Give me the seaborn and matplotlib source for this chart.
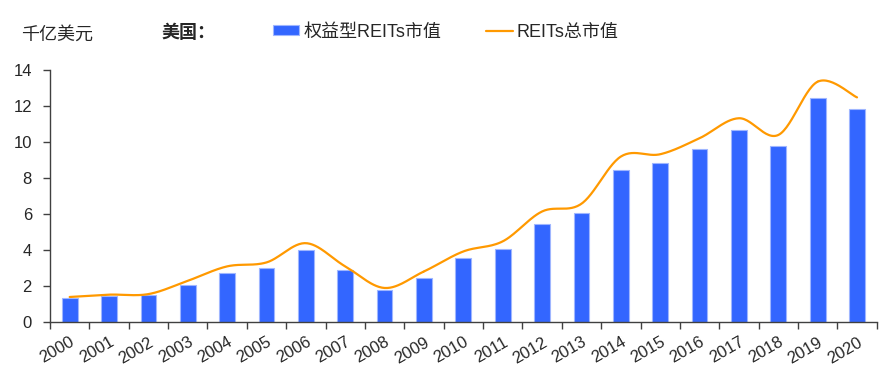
import numpy as np
import pandas as pd
import matplotlib
matplotlib.use("Agg")
import matplotlib.pyplot as plt
import seaborn as sns
from matplotlib.patches import Patch
from matplotlib.lines import Line2D

years = [str(y) for y in range(2000, 2021)]
equity_reits = [1.33, 1.46, 1.50, 2.03, 2.74, 3.01, 4.00, 2.89, 1.76, 2.46,
                3.57, 4.05, 5.44, 6.07, 8.45, 8.84, 9.60, 10.65, 9.78, 12.43, 11.82]
total_reits = [1.39, 1.52, 1.55, 2.29, 3.09, 3.31, 4.38, 3.09, 1.89, 2.81,
               3.92, 4.48, 6.14, 6.57, 9.19, 9.32, 10.21, 11.32, 10.39, 13.35, 12.48]

sns.set_theme(style="white")
plt.rcParams['font.family'] = ['Liberation Sans', 'Noto Sans CJK SC', 'DejaVu Sans']

fig = plt.figure(figsize=(8.92, 3.66), dpi=100)
ax = fig.add_axes([50/892, 44/366, (876.7-50)/892, (322-70)/366])

df = pd.DataFrame({"year": years, "equity": equity_reits})
sns.barplot(data=df, x="year", y="equity", color="#3366FF", width=0.4,
            saturation=1, edgecolor="#9FB6FF", linewidth=0.8, ax=ax)

# smooth line (Catmull-Rom through the read points)
xs = np.arange(len(total_reits), dtype=float)
ys = np.array(total_reits)
px = np.concatenate([[xs[0]], xs, [xs[-1]]])
py = np.concatenate([[ys[0]], ys, [ys[-1]]])
cx, cy = [], []
for i in range(1, len(px) - 2):
    t = np.linspace(0, 1, 30)
    for arr, out in ((px, cx), (py, cy)):
        p0, p1, p2, p3 = arr[i-1], arr[i], arr[i+1], arr[i+2]
        out.extend(0.5 * ((2*p1) + (-p0 + p2)*t + (2*p0 - 5*p1 + 4*p2 - p3)*t**2
                          + (-p0 + 3*p1 - 3*p2 + p3)*t**3))
ax.plot(cx, cy, color="#FF9900", linewidth=1.6)

ax.set_xlim(-0.5, len(years) - 0.5)
ax.set_ylim(0, 14)
ax.set_yticks(range(0, 15, 2))
ax.set_xlabel("")
ax.set_ylabel("")

for s in ["top", "right"]:
    ax.spines[s].set_visible(False)
for s in ["left", "bottom"]:
    ax.spines[s].set_color("#404040")
    ax.spines[s].set_linewidth(1.0)

ax.tick_params(axis="y", which="major", direction="out", length=5, width=1,
               color="#404040", labelsize=12, pad=8, left=True)
ax.tick_params(axis="x", which="major", length=0, labelsize=12, pad=9)
ax.set_xticks(np.arange(-0.5, len(years), 1.0), minor=True)
ax.tick_params(axis="x", which="minor", direction="out", length=5, width=1,
               color="#404040", bottom=True)
for lab in ax.get_xticklabels():
    lab.set_rotation(30)
    lab.set_ha("right")
    lab.set_rotation_mode("anchor")

fig.text(21/892, 1 - 35/366, "千亿美元", fontsize=13, va="center", ha="left")
fig.text(161/892, 1 - 33/366, "美国：", fontsize=13, fontweight="bold", va="center", ha="left")

handles = [Patch(facecolor="#3366FF", edgecolor="#9FB6FF", linewidth=0.8),
           Line2D([0], [0], color="#FF9900", linewidth=1.6)]
labels = ["权益型REITs市值", "REITs总市值"]
fig.legend(handles, labels, loc="center left", bbox_to_anchor=(266/892, 1 - 32/366),
           ncol=2, frameon=False, fontsize=13, handlelength=1.45, handleheight=0.5,
           handletextpad=0.22, columnspacing=2.5, borderaxespad=0)

fig.savefig("out.png", dpi=100, facecolor="white")
